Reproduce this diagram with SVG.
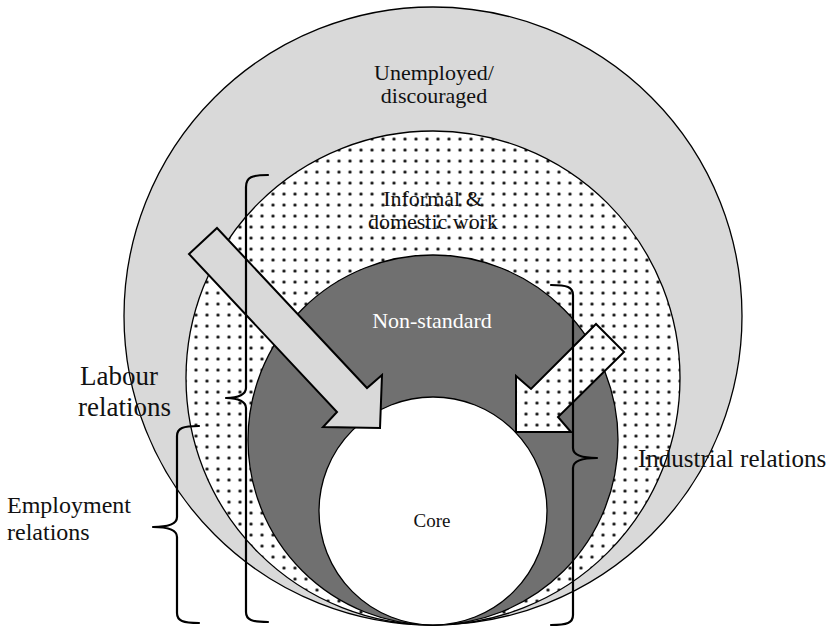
<svg xmlns="http://www.w3.org/2000/svg" width="832" height="628" viewBox="0 0 832 628">
<defs>
<pattern id="dots" width="11" height="11" patternUnits="userSpaceOnUse" x="3.5" y="1.5">
<rect width="11" height="11" fill="#ffffff"/>
<circle cx="5.5" cy="5.5" r="1.6" fill="#000000"/>
</pattern>
<style>
.ring{stroke:#000;stroke-width:1.3}
.arrow{stroke:#000;stroke-width:2;stroke-linejoin:miter}
.brace{fill:none;stroke:#000;stroke-width:2.2;stroke-linecap:round;stroke-linejoin:round}
text{font-family:"Liberation Serif","Times New Roman",serif;fill:#111}
.c{text-anchor:middle;font-size:22px}
</style>
</defs>
<rect width="832" height="628" fill="#ffffff"/>
<g id="unemployed">
<circle class="ring" cx="433" cy="316" r="309" fill="#d9d9d9"/>
<text class="c" x="434" y="80">Unemployed/</text>
<text class="c" x="434" y="103">discouraged</text>
</g>
<g id="informal">
<circle class="ring" cx="433" cy="378" r="247" fill="url(#dots)"/>
<text class="c" x="433" y="206">Informal &amp;</text>
<text class="c" x="433" y="229">domestic work</text>
</g>
<g id="nonstandard">
<circle class="ring" cx="433" cy="440" r="185" fill="#707070"/>
<text class="c" x="432" y="328" style="fill:#ffffff">Non-standard</text>
</g>
<g id="core">
<circle class="ring" cx="433" cy="511" r="114" fill="#ffffff"/>
<text class="c" x="432" y="527" style="font-size:19px">Core</text>
</g>
<g id="connectors">
<path class="arrow" fill="#d9d9d9" d="M217,228 L367,388 L382,375 L380,428 L323,427 L337,412 L189,254 Z"/>
<path class="arrow" fill="url(#dots)" d="M596,324 L531,389 L516,376 L516,432 L571,432 L558,417 L624,352 Z"/>
</g>
<g id="labour-relations">
<path class="brace" d="M268,175 C252,175 246,177 246,187 L246,388 C246,394 239,398 226,398 C239,398 246,402 246,408 L246,612 C246,620 252,622 268,622"/>
<text x="80" y="385" style="font-size:27px">Labour</text>
<text x="78" y="416" style="font-size:27px">relations</text>
</g>
<g id="employment-relations">
<path class="brace" d="M199,426 C183,426 177,428 177,436 L177,517 C177,523 170,527 153,527 C170,527 177,531 177,537 L177,613 C177,621 183,623 199,623"/>
<text x="7" y="513" style="font-size:24px">Employment</text>
<text x="7" y="540" style="font-size:24px">relations</text>
</g>
<g id="industrial-relations">
<path class="brace" d="M551,285 C567,285 573,287 573,295 L573,448 C573,454 580,458 597,458 C580,458 573,462 573,468 L573,615 C573,623 567,625 551,625"/>
<text x="638" y="467" style="font-size:25px">Industrial relations</text>
</g>
</svg>
